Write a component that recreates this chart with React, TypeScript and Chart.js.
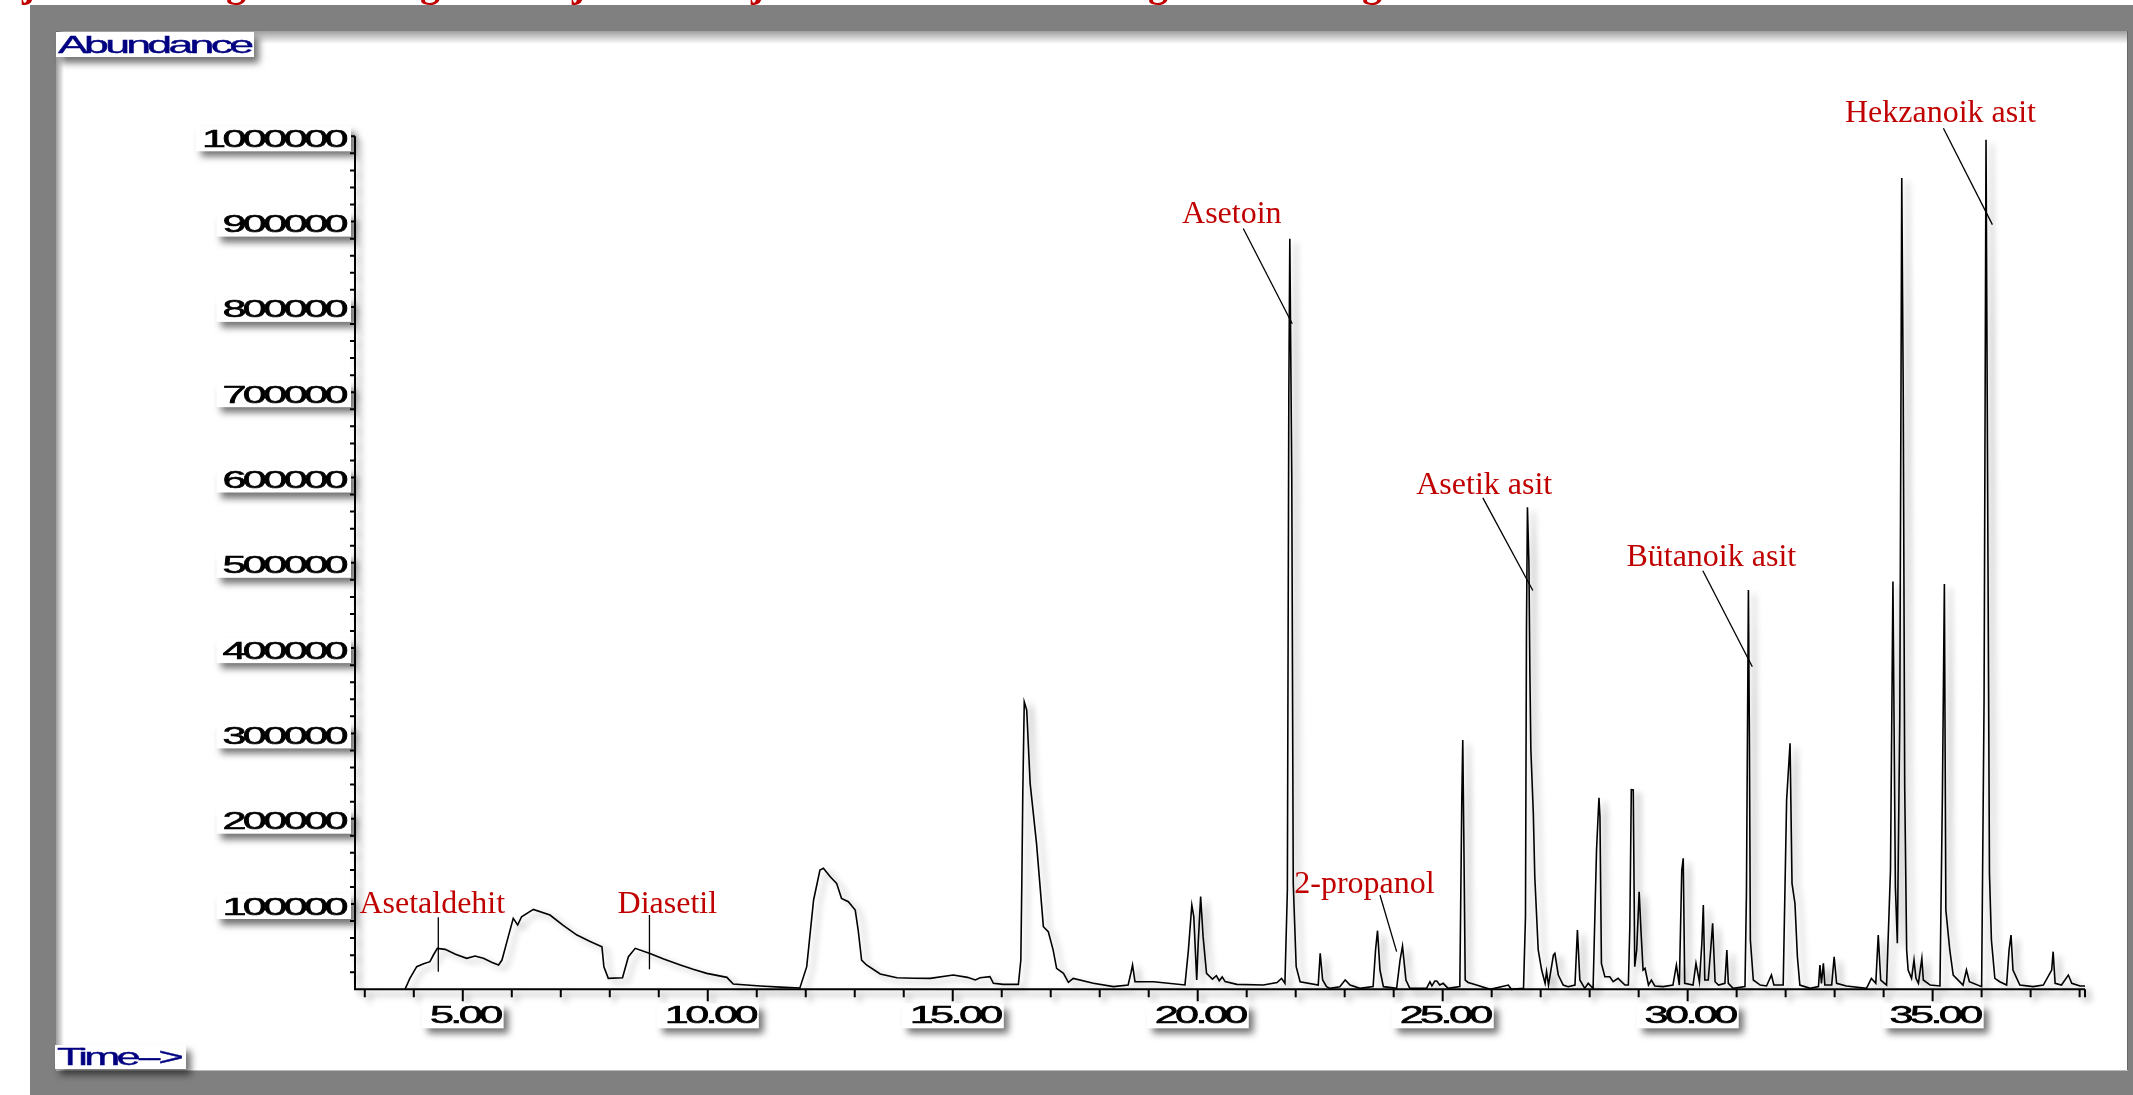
import React, { useEffect, useRef } from "react";
import { Chart, registerables } from "chart.js";
Chart.register(...registerables);

const W = 2133;
const H = 1095;

// ---- chromatogram data: [retention time (min), abundance] ----
const segmentEarly: [number, number][] = [
  [3.82, 0], [3.92, 12800], [4.06, 26500], [4.2, 30000], [4.33, 32400], [4.4, 40200], [4.48, 48000],
  [4.64, 46800], [4.85, 41000], [5.08, 36300], [5.25, 39000], [5.42, 36300], [5.6, 31500], [5.73, 28500],
  [5.8, 34300], [5.92, 60000], [6.03, 83200], [6.12, 75400], [6.2, 85100], [6.44, 93700], [6.78, 87100],
  [7.05, 75000], [7.33, 63600], [7.6, 56000], [7.84, 49950], [7.88, 26500], [7.97, 12800], [8.26, 13600],
  [8.38, 38200], [8.52, 48000], [8.82, 42100], [9.1, 35500], [9.44, 28500], [9.7, 23500], [9.98, 18700],
  [10.39, 14000], [10.52, 6200], [11.07, 3850], [11.58, 2300], [11.88, 1500], [12.02, 26500], [12.16, 104700],
  [12.29, 139850], [12.36, 141800], [12.5, 132000], [12.63, 124200], [12.73, 106600], [12.87, 102700],
  [13.01, 92950], [13.07, 69500], [13.14, 34300], [13.24, 28500], [13.52, 17900], [13.86, 13600],
  [14.2, 13000], [14.54, 12800], [15.01, 16700], [15.3, 14000], [15.46, 10900], [15.56, 13600],
  [15.76, 14800], [15.83, 7000], [16.03, 5800], [16.34, 5800],
];

const segmentMiddle: [number, number][] = [
  [16.39, 34300], [16.41, 124200], [16.43, 229700], [16.46, 337000], [16.51, 327400], [16.58, 241400],
  [16.71, 171100], [16.85, 73400], [16.95, 67600], [17.05, 46000], [17.12, 24600], [17.26, 18700],
  [17.36, 8200], [17.46, 12800], [17.87, 7000], [18.28, 3100], [18.58, 5100], [18.64, 20000], [18.67, 28500],
  [18.72, 8900], [19.1, 8900], [19.74, 5100], [19.81, 46000], [19.88, 98800], [19.92, 85100], [19.98, 10900],
  [20.01, 53900], [20.06, 108600], [20.11, 61700], [20.18, 18700], [20.3, 12000], [20.38, 16000],
  [20.44, 10000], [20.5, 14500], [20.56, 9000], [20.8, 5800], [21.34, 5100], [21.62, 8000], [21.71, 12800],
  [21.78, 7000], [21.83, 116000], [21.86, 700000], [21.88, 880000], [21.92, 600000], [21.95, 124200],
  [22.01, 26500], [22.09, 8900], [22.46, 5100], [22.5, 42200], [22.55, 10900], [22.63, 3100],
];

const segmentLate: [number, number][] = [
  [22.7, 1100], [22.9, 3000], [23.01, 10900], [23.11, 5000], [23.31, 1100], [23.58, 3100], [23.63, 46100],
  [23.67, 68700], [23.72, 22600], [23.79, 3100], [24.06, 1100], [24.13, 34300], [24.18, 50700],
  [24.25, 10900], [24.33, 1100], [24.67, 1100], [24.74, 8900], [24.78, 4000], [24.84, 9700], [24.88, 9700],
  [24.94, 5000], [25.01, 7000], [25.11, 1100], [25.35, 3100], [25.39, 221900], [25.41, 292300],
  [25.43, 186700], [25.46, 10900], [25.52, 8000], [25.69, 5000], [25.97, 0], [26.34, 5000], [26.4, 0],
  [26.65, 1100], [26.69, 85100], [26.71, 420000], [26.73, 565000], [26.76, 500000], [26.78, 370400],
  [26.8, 280500], [26.85, 206300], [26.88, 132000], [26.95, 46100], [27.02, 22600], [27.09, 7000],
  [27.12, 20600], [27.16, 5000], [27.26, 40200], [27.29, 42200], [27.36, 16700], [27.46, 5000],
  [27.56, 3100], [27.7, 5000], [27.75, 69500], [27.8, 10900], [27.9, 1100], [27.97, 7000], [28.07, 1100],
  [28.14, 163300], [28.19, 224600], [28.21, 202400], [28.24, 30400], [28.31, 14800], [28.41, 14800],
  [28.48, 8900], [28.58, 12800], [28.72, 5000], [28.79, 5000], [28.82, 73400], [28.85, 234000],
  [28.89, 233600], [28.92, 26500], [28.96, 46100], [29.01, 114400], [29.05, 65600], [29.09, 22600],
  [29.13, 24600], [29.2, 5000], [29.26, 10900], [29.33, 3900], [29.5, 3100], [29.7, 5000], [29.77, 28500],
  [29.83, 5000], [29.88, 139800], [29.91, 153500], [29.94, 7000], [30.11, 5000], [30.17, 30400],
  [30.24, 8900], [30.29, 53900], [30.32, 98800], [30.35, 10900], [30.42, 10900], [30.47, 46100],
  [30.51, 77300], [30.56, 8900], [30.63, 5000], [30.76, 7000], [30.8, 46100], [30.83, 7000], [30.93, 1100],
  [31.17, 3100], [31.2, 112500], [31.24, 468000], [31.26, 300000], [31.28, 57800], [31.34, 10900],
  [31.48, 5000], [31.61, 3900], [31.71, 16700], [31.76, 5000], [31.95, 5000], [32.02, 221900], [32.09, 288400],
];

const segmentEnd: [number, number][] = [
  [32.13, 124200], [32.19, 100800], [32.24, 38200], [32.29, 5000], [32.5, 1100], [32.67, 3100],
  [32.7, 28500], [32.73, 7000], [32.77, 30400], [32.8, 5000], [32.94, 5000], [32.99, 38200], [33.04, 7000],
  [33.24, 3900], [33.65, 1100], [33.75, 12800], [33.84, 7000], [33.89, 63600], [33.94, 10900], [34.06, 5000],
  [34.14, 139800], [34.19, 478000], [34.24, 120000], [34.28, 53900], [34.33, 320000], [34.37, 951000],
  [34.4, 700000], [34.43, 237500], [34.47, 46100], [34.5, 22600], [34.57, 12800], [34.62, 34300],
  [34.66, 12800], [34.71, 7000], [34.78, 36300], [34.81, 10900], [34.95, 5000], [35.15, 3900],
  [35.2, 229700], [35.24, 475000], [35.27, 93000], [35.35, 46100], [35.42, 16700], [35.62, 5000],
  [35.69, 22600], [35.75, 8900], [36.0, 3100], [36.05, 339100], [36.09, 996000], [36.13, 500000],
  [36.16, 135900], [36.2, 57800], [36.27, 12800], [36.37, 8900], [36.51, 5000], [36.56, 46100],
  [36.6, 63600], [36.64, 22600], [36.78, 5000], [37.05, 3100], [37.26, 5000], [37.43, 22600],
  [37.46, 44100], [37.5, 7000], [37.63, 5000], [37.77, 16700], [37.84, 7000], [38.01, 3900], [38.11, 3900],
];

// ---- axes ----
const xMin = 2.8;
const xMax = 38.11;
const yMin = 0;
const yMax = 1000000;
const xTickValues = [5, 10, 15, 20, 25, 30, 35];
const xTickLabels = ["5.00", "10.00", "15.00", "20.00", "25.00", "30.00", "35.00"];
const yTickValues = [100000, 200000, 300000, 400000, 500000, 600000, 700000, 800000, 900000, 1000000];
const yTickLabels = ["100000", "200000", "300000", "400000", "500000", "600000", "700000", "800000", "900000", "1000000"];

// ---- peak annotations ----
const peakNames = ["Asetaldehit", "Diasetil", "Asetoin", "2-propanol", "Asetik asit", "Bütanoik asit", "Hekzanoik asit"];
const peakLabelAt: [number, number][] = [
  [2.89, 89400], [8.16, 89100], [19.68, 898300], [21.97, 112500], [24.46, 580900], [28.75, 495800], [33.21, 1016600],
];
const peakLeaderFrom: [number, number][] = [
  [4.5, 84400], [8.81, 87100], [20.93, 891900], [23.72, 110500], [25.82, 576100], [30.31, 490600], [35.22, 1009500],
];
const peakLeaderTo: [number, number][] = [
  [4.5, 20600], [8.81, 23400], [21.93, 780200], [24.06, 44100], [26.84, 467600], [31.32, 378100], [36.22, 896500],
];

// cut-off title glyphs at the very top of the picture
const titleGlyphs = ["j", "g", "g", "j", "j", "g", "g"];
const titleGlyphX = [22, 226, 420, 572, 751, 1148, 1362];

const allPoints = [...segmentEarly, ...segmentMiddle, ...segmentLate, ...segmentEnd].map(([x, y]) => ({ x, y }));

function setSpacing(ctx: CanvasRenderingContext2D, v: string) {
  (ctx as any).letterSpacing = v;
}

function stretchText(ctx: CanvasRenderingContext2D, text: string, x: number, y: number, sx: number, align: string, stroke = 0) {
  const w = ctx.measureText(text).width * sx;
  const left = align === "left" ? x : align === "center" ? x - w / 2 : x - w;
  ctx.save();
  ctx.translate(left, y);
  ctx.scale(sx, 1);
  ctx.textAlign = "left";
  ctx.fillText(text, 0, 0);
  if (stroke > 0) {
    ctx.strokeStyle = ctx.fillStyle as string;
    ctx.lineWidth = stroke;
    ctx.strokeText(text, 0, 0);
  }
  ctx.restore();
  return w;
}

function shadowBox(ctx: CanvasRenderingContext2D, x: number, y: number, w: number, h: number) {
  ctx.save();
  ctx.shadowColor = "rgba(0,0,0,0.55)";
  ctx.shadowBlur = 7;
  ctx.shadowOffsetX = 5;
  ctx.shadowOffsetY = 6;
  ctx.fillStyle = "#ffffff";
  ctx.fillRect(x, y, w, h);
  ctx.restore();
}

const gcPlugin = {
  id: "gcFrame",
  beforeDraw(chart: any) {
    const ctx: CanvasRenderingContext2D = chart.ctx;
    ctx.save();
    ctx.fillStyle = "#ffffff";
    ctx.fillRect(0, 0, W, H);
    ctx.fillStyle = "#c00000";
    ctx.font = 'bold 40px "Liberation Serif"';
    ctx.textBaseline = "alphabetic";
    titleGlyphs.forEach((g, i) => ctx.fillText(g, titleGlyphX[i], -4));
    ctx.fillStyle = "#808080";
    ctx.fillRect(30, 5, W - 30, H - 5);
    ctx.fillStyle = "#ffffff";
    ctx.fillRect(56, 31, 2128 - 56, 1071 - 31);
    let g = ctx.createLinearGradient(0, 31, 0, 44);
    g.addColorStop(0, "rgba(0,0,0,0.38)");
    g.addColorStop(1, "rgba(0,0,0,0)");
    ctx.fillStyle = g;
    ctx.fillRect(56, 31, 2128 - 56, 13);
    g = ctx.createLinearGradient(56, 0, 64, 0);
    g.addColorStop(0, "rgba(0,0,0,0.38)");
    g.addColorStop(1, "rgba(0,0,0,0)");
    ctx.fillStyle = g;
    ctx.fillRect(56, 31, 8, 1071 - 31);
    ctx.strokeStyle = "#666";
    ctx.lineWidth = 1;
    ctx.beginPath();
    ctx.moveTo(2127.5, 31);
    ctx.lineTo(2127.5, 1071);
    ctx.stroke();
    ctx.strokeStyle = "#bbb";
    ctx.beginPath();
    ctx.moveTo(56, 1070.5);
    ctx.lineTo(2128, 1070.5);
    ctx.stroke();
    ctx.restore();
  },
  beforeDatasetsDraw(chart: any) {
    const ctx: CanvasRenderingContext2D = chart.ctx;
    const xs = chart.scales.x;
    const ys = chart.scales.y;
    const ca = chart.chartArea;
    ctx.save();
    ctx.shadowColor = "rgba(0,0,0,0.35)";
    ctx.shadowBlur = 6;
    ctx.shadowOffsetX = 5;
    ctx.shadowOffsetY = 5;
    ctx.strokeStyle = "#000";
    ctx.lineWidth = 2;
    ctx.beginPath();
    ctx.moveTo(ca.left, ys.getPixelForValue(yMax));
    ctx.lineTo(ca.left, ca.bottom);
    ctx.lineTo(ca.right, ca.bottom);
    for (let m = Math.ceil(xMin); m <= Math.floor(xMax); m++) {
      const px = xs.getPixelForValue(m);
      const len = m % 5 === 0 ? 12 : 8;
      ctx.moveTo(px, ca.bottom);
      ctx.lineTo(px, ca.bottom + len);
    }
    ctx.moveTo(ca.right, ca.bottom);
    ctx.lineTo(ca.right, ca.bottom + 8);
    for (let v = 20000; v <= yMax; v += 20000) {
      const py = ys.getPixelForValue(v);
      ctx.moveTo(ca.left, py);
      ctx.lineTo(ca.left - 5, py);
    }
    ctx.stroke();
    ctx.restore();
    ctx.save();
    ctx.shadowColor = "rgba(0,0,0,0.32)";
    ctx.shadowBlur = 6;
    ctx.shadowOffsetX = 6;
    ctx.shadowOffsetY = 4;
  },
  afterDatasetsDraw(chart: any) {
    chart.ctx.restore();
  },
  afterDraw(chart: any) {
    const ctx: CanvasRenderingContext2D = chart.ctx;
    const xs = chart.scales.x;
    const ys = chart.scales.y;
    const ca = chart.chartArea;
    ctx.save();
    ctx.textBaseline = "alphabetic";
    ctx.font = '24px "Liberation Sans"';
    setSpacing(ctx, "-2px");
    const numSx = 1.8;
    yTickValues.forEach((v, i) => {
      const py = ys.getPixelForValue(v);
      const w = ctx.measureText(yTickLabels[i]).width * numSx;
      const right = ca.left - 10;
      shadowBox(ctx, right - w - 6, py - 10, w + 12, 25);
      ctx.fillStyle = "#000";
      stretchText(ctx, yTickLabels[i], right, py + 10.5, numSx, "right", 0.6);
    });
    xTickValues.forEach((v, i) => {
      const px = xs.getPixelForValue(v);
      const w = ctx.measureText(xTickLabels[i]).width * numSx;
      shadowBox(ctx, px - w / 2 - 6, ca.bottom + 14, w + 12, 25);
      ctx.fillStyle = "#000";
      stretchText(ctx, xTickLabels[i], px + 2, ca.bottom + 34, numSx, "center", 0.6);
    });
    ctx.font = '24px "Liberation Sans"';
    shadowBox(ctx, 56, 32, 198, 25);
    ctx.fillStyle = "#000080";
    stretchText(ctx, "Abundance", 58, 52.5, 1.86, "left", 0.4);
    shadowBox(ctx, 55, 1045, 131, 24);
    ctx.fillStyle = "#000080";
    stretchText(ctx, "Time-->", 57, 1065, 1.8, "left", 0.4);
    setSpacing(ctx, "0px");
    ctx.font = '32px "Liberation Serif"';
    ctx.textAlign = "left";
    peakNames.forEach((name, i) => {
      const [lt, lv] = peakLabelAt[i];
      ctx.fillStyle = "#c00000";
      ctx.fillText(name, xs.getPixelForValue(lt), ys.getPixelForValue(lv));
      const [ft, fv] = peakLeaderFrom[i];
      const [tt, tv] = peakLeaderTo[i];
      ctx.strokeStyle = "#000";
      ctx.lineWidth = 1.3;
      ctx.beginPath();
      ctx.moveTo(xs.getPixelForValue(ft), ys.getPixelForValue(fv));
      ctx.lineTo(xs.getPixelForValue(tt), ys.getPixelForValue(tv));
      ctx.stroke();
    });
    ctx.restore();
  },
};

export default function App() {
  const ref = useRef<HTMLCanvasElement>(null);
  useEffect(() => {
    const canvas = ref.current;
    if (!canvas) return;
    const chart = new Chart(canvas, {
      type: "line",
      data: {
        datasets: [
          {
            data: allPoints,
            borderColor: "#000000",
            borderWidth: 1.6,
            pointRadius: 0,
            tension: 0,
            fill: false,
            clip: false,
          } as any,
        ],
      },
      options: {
        animation: false,
        responsive: false,
        devicePixelRatio: 1,
        events: [],
        layout: { padding: { left: 355, right: W - 2085, top: 136.3, bottom: H - 989.3 } },
        plugins: { legend: { display: false }, tooltip: { enabled: false } },
        scales: {
          x: { type: "linear", min: xMin, max: xMax, display: false },
          y: { type: "linear", min: yMin, max: yMax, display: false },
        },
      },
      plugins: [gcPlugin as any],
    });
    return () => chart.destroy();
  }, []);
  return (
    <div style={{ position: "fixed", left: 0, top: 0, width: W, height: H, background: "#fff" }}>
      <canvas ref={ref} width={W} height={H} style={{ width: W, height: H, display: "block" }} />
    </div>
  );
}
